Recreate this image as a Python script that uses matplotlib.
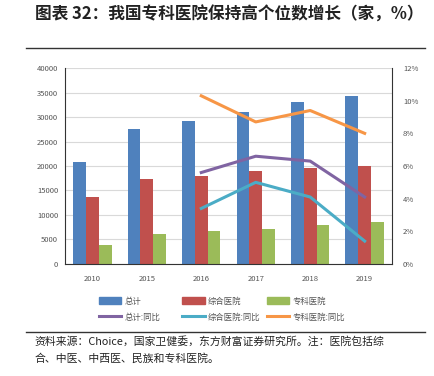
import matplotlib.pyplot as plt
import numpy as np
from matplotlib.lines import Line2D

plt.rcParams['font.family'] = ['Noto Sans CJK SC', 'DejaVu Sans']

years = ['2010', '2015', '2016', '2017', '2018', '2019']
total = [20918, 27587, 29140, 31056, 33009, 34354]
general = [13681, 17430, 18020, 18921, 19693, 19963]
special = [3956, 6023, 6642, 7220, 7900, 8531]
total_yoy = [None, None, 5.6, 6.6, 6.3, 4.1]
general_yoy = [None, None, 3.4, 5.0, 4.1, 1.4]
special_yoy = [None, None, 10.3, 8.7, 9.4, 8.0]

c_blue = '#4F81BD'
c_red = '#C0504D'
c_green = '#9BBB59'
c_purple = '#8064A2'
c_cyan = '#4BACC6'
c_orange = '#F79646'

fig = plt.figure(figsize=(4.34, 3.76), dpi=100)
ax = fig.add_axes([0.150, 0.298, 0.753, 0.521])

x = np.arange(len(years))
w = 0.235
ax.bar(x - w, total, w, color=c_blue, label='总计', zorder=2)
ax.bar(x, general, w, color=c_red, label='综合医院', zorder=2)
ax.bar(x + w, special, w, color=c_green, label='专科医院', zorder=2)

ax.set_xlim(-0.5, len(years) - 0.5)
ax.set_ylim(0, 40000)
ax.set_yticks(range(0, 40001, 5000))
ax.set_xticks(x)
ax.set_xticklabels(years)
ax.yaxis.grid(True, color='#d9d9d9', linewidth=0.8, zorder=0)
ax.set_axisbelow(True)
for s in ['top', 'right']:
    ax.spines[s].set_visible(False)
ax.spines['left'].set_color('#333333')
ax.spines['bottom'].set_color('#333333')
ax.tick_params(axis='y', labelsize=5.5, colors='#555555', length=0, pad=5)
ax.tick_params(axis='x', labelsize=5.5, colors='#555555', length=0, pad=8)

ax2 = ax.twinx()
xi = x[2:]
ax2.plot(xi, total_yoy[2:], color=c_purple, lw=2.2)
ax2.plot(xi, general_yoy[2:], color=c_cyan, lw=2.2)
ax2.plot(xi, special_yoy[2:], color=c_orange, lw=2.2)
ax2.set_ylim(0, 12)
ax2.set_yticks(range(0, 13, 2))
ax2.set_yticklabels([f'{v}%' for v in range(0, 13, 2)])
for s in ['top', 'left', 'bottom']:
    ax2.spines[s].set_visible(False)
ax2.spines['right'].set_color('#333333')
ax2.tick_params(axis='y', labelsize=5.5, colors='#555555', length=0, pad=8)

# legend: three columns placed by hand
cols = [
    (0.228, [plt.Rectangle((0, 0), 1, 1, color=c_blue), Line2D([], [], color=c_purple, lw=2.2)],
     ['总计', '总计:同比']),
    (0.420, [plt.Rectangle((0, 0), 1, 1, color=c_red), Line2D([], [], color=c_cyan, lw=2.2)],
     ['综合医院', '综合医院:同比']),
    (0.615, [plt.Rectangle((0, 0), 1, 1, color=c_green), Line2D([], [], color=c_orange, lw=2.2)],
     ['专科医院', '专科医院:同比']),
]
for xpos, hs, ls in cols:
    leg = fig.legend(hs, ls, loc='center left', bbox_to_anchor=(xpos, 0.178),
                     frameon=False, fontsize=6, handlelength=2.7, handleheight=0.9,
                     labelspacing=0.85, handletextpad=0.4, borderpad=0, borderaxespad=0)
    for t in leg.get_texts():
        t.set_color('#555555')

fig.text(0.08, 0.962, '图表 32：我国专科医院保持高个位数增长（家，%）', fontsize=12,
         fontweight='bold', color='#222222', va='center', ha='left')
fig.add_artist(Line2D([0.06, 0.98], [0.872, 0.872], color='#333333', lw=1.0))
fig.add_artist(Line2D([0.06, 0.98], [0.118, 0.118], color='#333333', lw=1.0))
fig.text(0.08, 0.092, '资料来源：Choice，国家卫健委，东方财富证券研究所。注：医院包括综',
         fontsize=7.8, color='#222222', va='center', ha='left')
fig.text(0.08, 0.048, '合、中医、中西医、民族和专科医院。',
         fontsize=7.8, color='#222222', va='center', ha='left')

fig.savefig('out.png', dpi=100)
